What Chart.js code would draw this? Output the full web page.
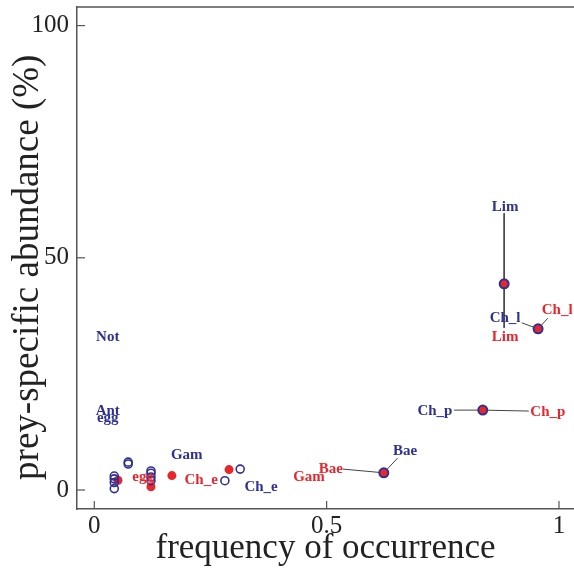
<!DOCTYPE html>
<html><head><meta charset="utf-8">
<script src="https://cdn.jsdelivr.net/npm/chart.js@4.4.0/dist/chart.umd.min.js"></script>
<style>html,body{margin:0;padding:0;background:#fff}</style>
</head><body>
<canvas id="c" width="574" height="570" style="width:574px;height:570px;display:block"></canvas>
<script>
// ---- data ----
const xTicks = [0, 0.5, 1];
const xTickLabels = ['0', '0.5', '1'];
const yTicks = [0, 50, 100];
const yTickLabels = ['0', '50', '100'];

// open blue circles
const blueX = [0.043, 0.043, 0.043, 0.043, 0.073, 0.073, 0.122, 0.122, 0.122, 0.122, 0.281, 0.314];
const blueY = [3.0, 2.4, 1.6, 0.3, 6.0, 5.6, 4.1, 3.6, 2.8, 2.0, 2.0, 4.5];
// filled red circles
const redX = [0.051, 0.122, 0.167, 0.290];
const redY = [2.1, 0.7, 3.1, 4.4];
// red circles with blue ring
const bothX = [0.623, 0.836, 0.882, 0.955];
const bothY = [3.7, 17.2, 44.4, 34.7];

// labels
const blueLabels = ['Not', 'Ant', 'egg', 'Gam', 'Ch_e', 'Bae', 'Ch_p', 'Ch_l', 'Lim'];
const blueLabelX = [0.029, 0.029, 0.029, 0.199, 0.359, 0.669, 0.733, 0.884, 0.884];
const blueLabelY = [32.9, 17.0, 15.5, 7.5, 0.65, 8.4, 17.0, 37.0, 60.9];
const redLabels = ['egg', 'Ch_e', 'Gam', 'Bae', 'Ch_p', 'Ch_l', 'Lim'];
const redLabelX = [0.105, 0.230, 0.462, 0.509, 0.976, 0.996, 0.884];
const redLabelY = [2.8, 2.15, 2.8, 4.5, 16.8, 38.8, 32.9];

// leader lines (label -> point -> label)
const linkX = [[0.882, 0.882, 0.882], [0.920, 0.955, 0.976], [0.774, 0.836, 0.935], [0.535, 0.623, 0.653]];
const linkY = [[59.6, 44.4, 34.9], [36.0, 34.7, 37.0], [17.2, 17.2, 17.0], [4.5, 3.7, 6.9]];

const BLUE = '#2e3192';
const RED = '#e8262d';
const AXIS = '#555555';
const SERIF = '"Liberation Serif", "DejaVu Serif", serif';

const toPts = (xs, ys) => xs.map((x, i) => ({x, y: ys[i]}));

const datasets = [];
linkX.forEach((xs, i) => datasets.push({
  type: 'line', data: toPts(xs, linkY[i]), borderColor: '#444', borderWidth: 1,
  pointRadius: 0, fill: false, tension: 0, order: 5
}));
datasets.push({data: toPts(redX, redY), pointRadius: 4.5, pointBackgroundColor: RED, pointBorderColor: RED, pointBorderWidth: 0, order: 4});
datasets.push({data: toPts(blueX, blueY), pointRadius: 4, pointBackgroundColor: 'rgba(0,0,0,0)', pointBorderColor: BLUE, pointBorderWidth: 1.6, order: 3});
datasets.push({data: toPts(bothX, bothY), pointRadius: 4.5, pointBackgroundColor: RED, pointBorderColor: BLUE, pointBorderWidth: 2, order: 2});

const decor = {
  id: 'decor',
  afterDraw(chart) {
    const {ctx, chartArea: ca, scales: {x, y}} = chart;
    ctx.save();
    ctx.strokeStyle = AXIS; ctx.lineWidth = 1.5;
    ctx.beginPath(); ctx.moveTo(ca.left, ca.top); ctx.lineTo(ca.right, ca.top); ctx.stroke();
    ctx.lineWidth = 1.2;
    xTicks.forEach(v => { const p = x.getPixelForValue(v); ctx.beginPath(); ctx.moveTo(p, ca.bottom); ctx.lineTo(p, ca.bottom - 8); ctx.stroke(); });
    yTicks.forEach(v => { const p = y.getPixelForValue(v); ctx.beginPath(); ctx.moveTo(ca.left, p); ctx.lineTo(ca.left + 8, p); ctx.stroke(); });
    ctx.font = 'bold 15px ' + SERIF;
    ctx.textAlign = 'center'; ctx.textBaseline = 'middle';
    ctx.fillStyle = BLUE;
    blueLabels.forEach((t, i) => ctx.fillText(t, x.getPixelForValue(blueLabelX[i]), y.getPixelForValue(blueLabelY[i])));
    ctx.fillStyle = RED;
    redLabels.forEach((t, i) => ctx.fillText(t, x.getPixelForValue(redLabelX[i]), y.getPixelForValue(redLabelY[i])));
    ctx.restore();
  }
};

const noPad = s => { s.paddingTop = 0; s.paddingBottom = 0; s.paddingLeft = 0; s.paddingRight = 0; };

new Chart(document.getElementById('c'), {
  type: 'scatter',
  data: {datasets},
  options: {
    responsive: false, animation: false, devicePixelRatio: 1,
    layout: {autoPadding: false, padding: {top: 7, right: 0, left: 0, bottom: 0}},
    plugins: {legend: {display: false}, tooltip: {enabled: false}},
    scales: {
      x: {
        type: 'linear', min: -0.0372, max: 1.0323,
        afterBuildTicks: s => { s.ticks = xTicks.map(v => ({value: v})); },
        afterFit: s => { s.height = 61; noPad(s); },
        ticks: {callback: (v) => xTickLabels[xTicks.indexOf(v)], font: {family: SERIF, size: 25}, color: '#222', padding: 2, maxRotation: 0},
        grid: {drawOnChartArea: false, drawTicks: false},
        border: {display: true, color: AXIS, width: 1.5},
        title: {display: true, text: 'frequency of occurrence', font: {family: SERIF, size: 35}, color: '#222', padding: {top: 0, bottom: 0}}
      },
      y: {
        type: 'linear', min: -4.09, max: 104,
        afterBuildTicks: s => { s.ticks = yTicks.map(v => ({value: v})); },
        afterFit: s => { s.width = 77; noPad(s); },
        ticks: {callback: (v) => yTickLabels[yTicks.indexOf(v)], font: {family: SERIF, size: 25}, color: '#222', padding: 8},
        grid: {drawOnChartArea: false, drawTicks: false},
        border: {display: true, color: AXIS, width: 1.5},
        title: {display: true, text: 'prey-specific abundance (%)  ', font: {family: SERIF, size: 37}, color: '#222', padding: {top: 6, bottom: 0}}
      }
    }
  },
  plugins: [decor]
});
</script>
</body></html>
